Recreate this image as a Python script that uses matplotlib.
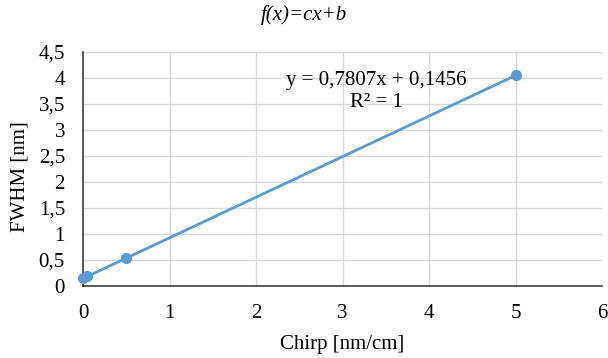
import numpy as np
import matplotlib
matplotlib.use("Agg")
import matplotlib.pyplot as plt
from matplotlib.ticker import FuncFormatter, MultipleLocator

plt.rcParams['font.family'] = ['Liberation Serif', 'DejaVu Serif']

# Chirp values and measured FWHM
chirp = [0.0, 0.05, 0.5, 5.0]
fwhm = [0.1456, 0.1846, 0.5360, 4.0491]

# Linear fit coefficients shown in the annotation
slope = 0.7807
intercept = 0.1456
r_squared = 1

blue = '#5B9BD5'
fs = 15

fig = plt.figure(figsize=(6.08, 3.58), dpi=100)
ax = fig.add_axes([83 / 608, 1 - 286 / 358, 519 / 608, 234 / 358])

ax.plot(chirp, fwhm, color=blue, lw=1.9, marker='o', ms=7, zorder=3, clip_on=False)
xfit = np.array([min(chirp), max(chirp)])
ax.plot(xfit, slope * xfit + intercept, color=blue, lw=1.5, zorder=2, clip_on=False)

ax.set_xlim(0, 6)
ax.set_ylim(0, 4.5)
ax.xaxis.set_major_locator(MultipleLocator(1))
ax.yaxis.set_major_locator(MultipleLocator(0.5))

def comma(v, pos):
    return f"{v:g}".replace('.', ',')

ax.xaxis.set_major_formatter(FuncFormatter(comma))
ax.yaxis.set_major_formatter(FuncFormatter(comma))

ax.grid(True, color='#d9d9d9', lw=1)
ax.set_axisbelow(True)
for s in ['top', 'right']:
    ax.spines[s].set_visible(False)
for s in ['left', 'bottom']:
    ax.spines[s].set_color('#404040')
    ax.spines[s].set_linewidth(1.2)
ax.tick_params(axis='x', length=0, labelsize=fs, pad=13, colors='black')
ax.tick_params(axis='y', length=0, labelsize=fs, pad=13, colors='black')

fig.text(342 / 608, 1 - 345 / 358, 'Chirp [nm/cm]', ha='center', va='center', fontsize=fs)
fig.text(20 / 608, 1 - 177 / 358, 'FWHM [nm]', ha='center', va='center', fontsize=fs, rotation=90)

eq = f"y = {slope:.4f}x + {intercept:.4f}".replace('.', ',')
ax.text(3.39, 3.96, eq, ha='center', va='center', fontsize=fs)
ax.text(3.39, 3.52, f"R² = {r_squared}", ha='center', va='center', fontsize=fs)

fig.text(0.5, 1 - 15 / 358, 'f(x)=cx+b', ha='center', va='center', fontsize=15, style='italic')

fig.savefig('out.png', dpi=100)
